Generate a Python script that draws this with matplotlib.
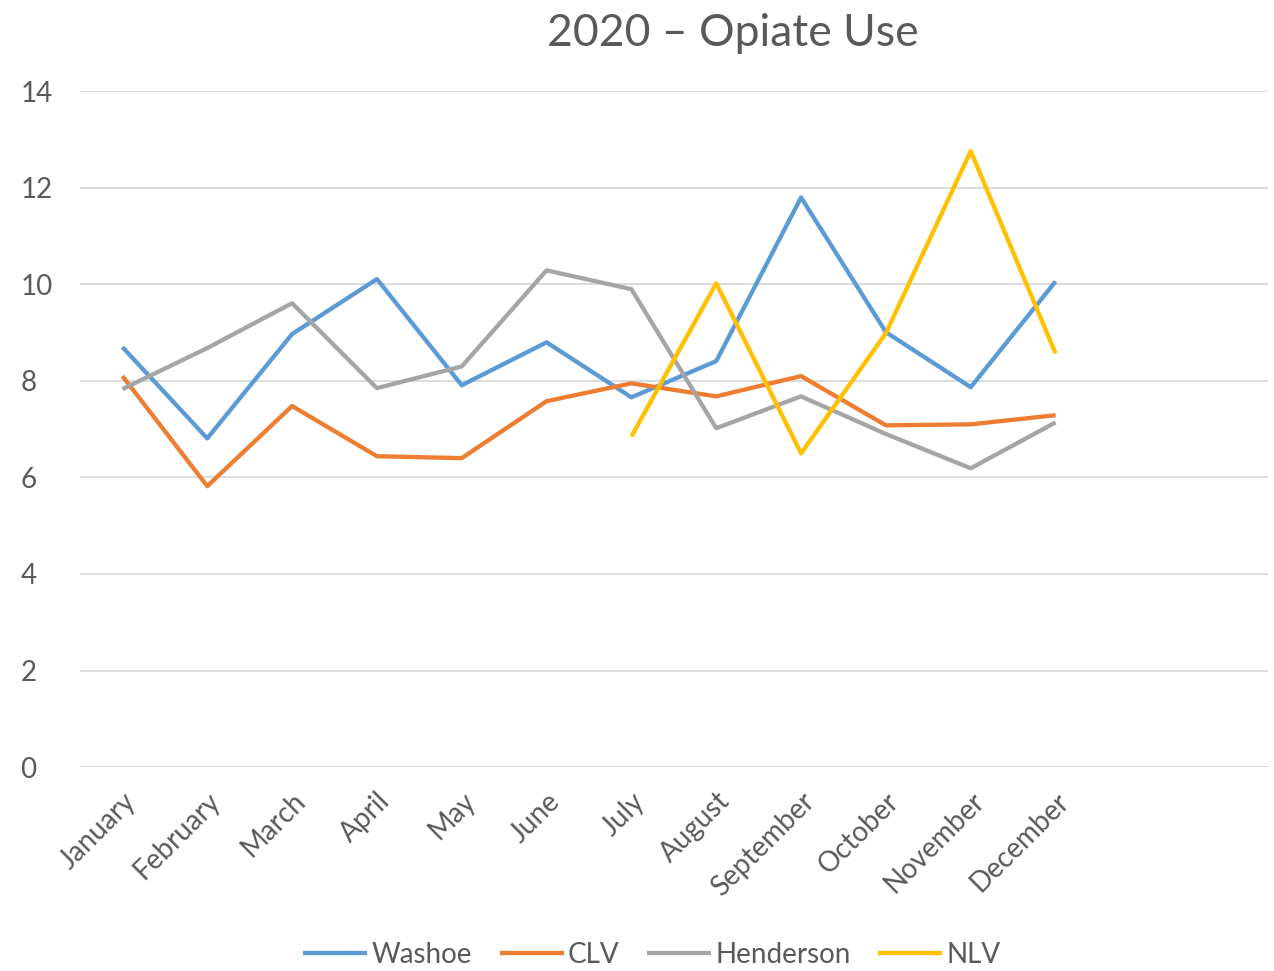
import numpy as np
import matplotlib.pyplot as plt

# chart data
months = ["January", "February", "March", "April", "May", "June",
          "July", "August", "September", "October", "November", "December"]
n_slots = 14  # excel axis has two empty categories after December

washoe = [8.70, 6.81, 8.97, 10.11, 7.91, 8.80, 7.66, 8.41, 11.80, 9.01, 7.87, 10.06]
clv = [8.10, 5.82, 7.48, 6.44, 6.40, 7.58, 7.95, 7.68, 8.10, 7.08, 7.10, 7.29]
henderson = [7.83, 8.68, 9.61, 7.85, 8.30, 10.29, 9.90, 7.02, 7.68, 6.90, 6.19, 7.14]
nlv = [np.nan] * 6 + [6.85, 10.02, 6.50, 8.99, 12.76, 8.57]

series = [("Washoe", washoe, "#5B9BD5"),
          ("CLV", clv, "#ED7D31"),
          ("Henderson", henderson, "#A5A5A5"),
          ("NLV", nlv, "#FFC000")]

plt.rcParams['font.family'] = ['Lato', 'DejaVu Sans']
text_col = "#595959"

#===============================================================================
fig = plt.figure(figsize=(12.74, 9.71), dpi=100)
ax = fig.add_axes([0.0628, 0.210, 0.9322, 0.696])

x = np.arange(len(months))
for name, vals, col in series:
    ax.plot(x, vals, color=col, lw=3.1, label=name,
            solid_capstyle='butt', solid_joinstyle='round')

ax.set_xlim(-0.5, n_slots - 0.5)
ax.set_ylim(0, 14)
ax.set_yticks(range(0, 15, 2))
ax.grid(axis='y', color="#D9D9D9", lw=1.3)
ax.set_axisbelow(True)
for s in ["top", "right", "left", "bottom"]:
    ax.spines[s].set_visible(False)
ax.axhline(0, color="#D9D9D9", lw=1.3, zorder=0)

ax.set_xticks(x)
ax.set_xticklabels(months, rotation=45, ha='right', rotation_mode='anchor',
                   fontsize=20, color=text_col)
ax.tick_params(axis='both', length=0, labelsize=20, labelcolor=text_col)
ax.tick_params(axis='y', pad=43)
ax.tick_params(axis='x', pad=15)
for lbl in ax.get_yticklabels():
    lbl.set_horizontalalignment('left')

fig.text(733 / 1274, 1 - 33 / 971, "2020 \u2013 Opiate Use", ha='center', va='center',
         fontsize=32, color=text_col)

fig.legend(loc='center', bbox_to_anchor=(652 / 1274, 1 - 955 / 971), ncol=4,
           frameon=False, fontsize=20, handlelength=2.3, handletextpad=0.15,
           columnspacing=1.0, labelcolor=text_col)

fig.savefig("out.png", dpi=100)
